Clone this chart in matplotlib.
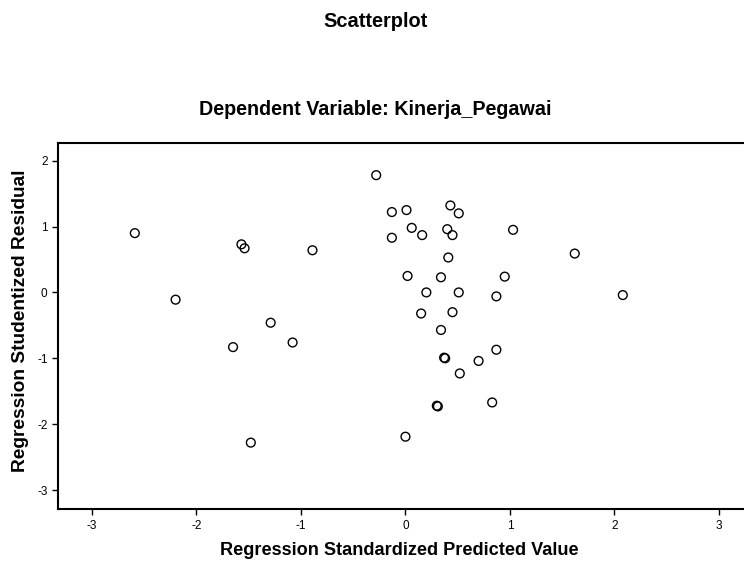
import numpy as np
import matplotlib
matplotlib.use('Agg')
import matplotlib.pyplot as plt

plt.rcParams['font.family'] = ['Liberation Sans', 'DejaVu Sans']
plt.rcParams['axes.unicode_minus'] = False

# standardized predicted value vs studentized residual
pred = [-2.59, -2.20, -1.57, -1.54, -0.89, -1.29, -1.65, -1.08, -1.48,
        -0.28, -0.13, 0.01, 0.43, 0.51, 0.06, 0.16, 0.40, 0.45, -0.13,
        1.03, 0.41, 1.62, 0.02, 0.34, 0.95, 0.20, 0.51, 0.87, 2.08,
        0.15, 0.45, 0.34, 0.87, 0.38, 0.37, 0.70, 0.52, 0.31, 0.30,
        0.83, 0.00]
resid = [0.90, -0.11, 0.73, 0.67, 0.64, -0.46, -0.83, -0.76, -2.28,
         1.78, 1.22, 1.25, 1.32, 1.20, 0.98, 0.87, 0.96, 0.87, 0.83,
         0.95, 0.53, 0.59, 0.25, 0.23, 0.24, 0.00, 0.00, -0.06, -0.04,
         -0.32, -0.30, -0.57, -0.87, -1.00, -0.99, -1.04, -1.23, -1.73, -1.72,
         -1.67, -2.19]
ticks = [-3, -2, -1, 0, 1, 2, 3]

fig = plt.figure(figsize=(7.44, 5.67), dpi=100)
ax = fig.add_axes([0.078, 0.102, 0.922, 0.646])

ax.scatter(pred, resid, s=40, facecolors='none', edgecolors='black', linewidths=1.0)

ax.set_xlim(-3.325, 3.24)
ax.set_ylim(-3.29, 2.27)
ax.set_xticks(ticks)
ax.set_yticks(ticks[:-1])
ax.tick_params(labelsize=8.5, length=4, width=1, direction='out')
ax.spines['right'].set_visible(False)
for s in ['left', 'top', 'bottom']:
    ax.spines[s].set_linewidth(1.5)

ax.set_xlabel('Regression Standardized Predicted Value', fontsize=13.1, fontweight='bold',
              va='center', ha='center')
ax.set_ylabel('Regression Studentized Residual', fontsize=13.8, fontweight='bold',
              va='center', ha='center')
ax.xaxis.set_label_coords(0.497, -0.112)
ax.yaxis.set_label_coords(-0.055, 0.514)

fig.text(0.505, 0.962, 'Scatterplot', ha='center', va='center', fontsize=14.4, fontweight='bold')
fig.text(0.505, 0.806, 'Dependent Variable: Kinerja_Pegawai', ha='center', va='center',
         fontsize=14.2, fontweight='bold')

fig.savefig('out.png', dpi=100)
